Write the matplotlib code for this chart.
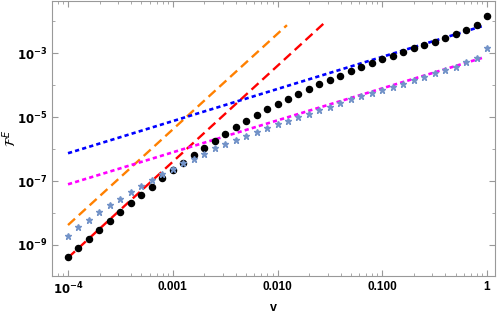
import numpy as np
import matplotlib
matplotlib.use("Agg")
import matplotlib.pyplot as plt
from matplotlib.ticker import FixedLocator, LogLocator, NullFormatter

plt.rcParams['font.family'] = ['Liberation Sans', 'DejaVu Sans']
plt.rcParams['mathtext.fontset'] = 'dejavusans'

# log10(v) grid of the sampled points
v_log10 = [-4.0, -3.9, -3.8, -3.7, -3.6, -3.5, -3.4, -3.3, -3.2, -3.1,
           -3.0, -2.9, -2.8, -2.7, -2.6, -2.5, -2.4, -2.3, -2.2, -2.1,
           -2.0, -1.9, -1.8, -1.7, -1.6, -1.5, -1.4, -1.3, -1.2, -1.1,
           -1.0, -0.9, -0.8, -0.7, -0.6, -0.5, -0.4, -0.3, -0.2, -0.1, 0.0]

# log10(F^E) values, black dots
black_log10 = [-9.38, -9.11, -8.82, -8.53, -8.26, -7.98, -7.70, -7.44, -7.18, -6.91,
               -6.66, -6.43, -6.19, -5.96, -5.74, -5.52, -5.32, -5.13, -4.95, -4.76,
               -4.59, -4.43, -4.27, -4.11, -3.97, -3.83, -3.70, -3.55, -3.44, -3.30,
               -3.19, -3.08, -2.96, -2.85, -2.74, -2.64, -2.52, -2.41, -2.28, -2.13, -1.84]

# log10(F^E) values, stars
star_log10 = [-8.71, -8.45, -8.21, -7.98, -7.75, -7.56, -7.35, -7.15, -6.97, -6.78,
              -6.62, -6.44, -6.30, -6.16, -5.98, -5.85, -5.73, -5.60, -5.48, -5.35,
              -5.23, -5.11, -5.01, -4.90, -4.78, -4.68, -4.57, -4.45, -4.35, -4.26,
              -4.16, -4.05, -3.95, -3.85, -3.74, -3.63, -3.53, -3.42, -3.29, -3.15, -2.85]

# asymptotic power laws (end points)
orange_v = [1e-4, 0.0123]
orange_F = [4.2e-9, 7.5e-3]
red_v = [1e-4, 0.029]
red_F = [4.0e-10, 9.8e-3]
blue_v = [1e-4, 0.89]
blue_F = [7.4e-7, 6.9e-3]
magenta_v = [1e-4, 0.91]
magenta_F = [7.9e-8, 7.2e-4]

xticks = [1e-4, 1e-3, 1e-2, 1e-1, 1]
xlabels = ['$\\mathbf{10^{-4}}$', '0.001', '0.010', '0.100', '1']
yticks = [1e-9, 1e-7, 1e-5, 1e-3]
ylabels = ['$\\mathbf{10^{-9}}$', '$\\mathbf{10^{-7}}$', '$\\mathbf{10^{-5}}$', '$\\mathbf{10^{-3}}$']

v = 10 ** np.array(v_log10)
black = 10 ** np.array(black_log10)
star = 10 ** np.array(star_log10)

fig = plt.figure(figsize=(4.97, 3.16), dpi=100)
ax = fig.add_axes([0.1046, 0.1266, 0.8914, 0.8702])

ax.plot(orange_v, orange_F, color='#ff8000', lw=1.7, dashes=(4, 2.2))
ax.plot(red_v, red_F, color='#ff0000', lw=1.7, dashes=(4, 2.2))
ax.plot(blue_v, blue_F, color='#0000ff', lw=1.9, dashes=(1.6, 1.2))
ax.plot(magenta_v, magenta_F, color='#ff00ff', lw=1.9, dashes=(1.6, 1.2))
ax.plot(v, black, 'o', color='black', ms=4.4, zorder=3)
ax.plot(v, star, '*', color='#7393c8', ms=4.8, zorder=4)

ax.set_xscale('log')
ax.set_yscale('log')
ax.set_xlim(10 ** -4.153, 10 ** 0.076)
ax.set_ylim(10 ** -9.97, 10 ** -1.37)

ax.xaxis.set_major_locator(FixedLocator(xticks))
ax.set_xticklabels(xlabels)
ax.xaxis.set_minor_locator(LogLocator(base=10, subs=np.arange(2, 10)))
ax.xaxis.set_minor_formatter(NullFormatter())
ax.yaxis.set_major_locator(FixedLocator(yticks))
ax.set_yticklabels(ylabels)
ax.yaxis.set_minor_locator(FixedLocator([10.0 ** k for k in range(-10, 0)]))
ax.yaxis.set_minor_formatter(NullFormatter())

for s in ax.spines.values():
    s.set_color('#999999')
ax.tick_params(which='both', direction='in', top=True, right=True, color='#999999',
               labelsize=8.5)
ax.tick_params(which='major', length=4)
ax.tick_params(which='minor', length=2.5)
for lbl in ax.get_xticklabels() + ax.get_yticklabels():
    lbl.set_fontweight('bold')

ax.set_xlabel('v', fontsize=9, fontweight='bold')
ax.xaxis.set_label_coords(0.499, -0.095)
ax.set_ylabel('$\\mathcal{F}^E$', fontsize=10)
ax.yaxis.set_label_coords(-0.075, 0.5)

fig.savefig('out.png', dpi=100)
